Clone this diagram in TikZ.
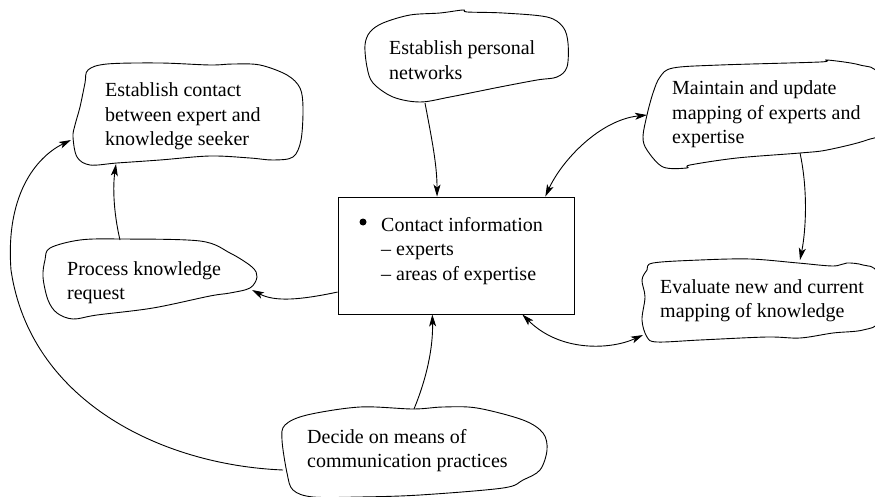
\documentclass[tikz,border=0pt]{standalone}
\usepackage{fontspec}
\setmainfont{Liberation Serif}
\usetikzlibrary{arrows.meta,calc}

\tikzset{
  % multi-line labels are anchored at the baseline of their last line
  label text/.style={anchor=base west, inner sep=0pt, align=left,
    font=\fontsize{20}{24.5}\selectfont},
  blob/.style={draw=black, line width=0.9pt, line join=round},
  link/.style={draw=black, line width=0.9pt,
    -{Stealth[length=12pt,width=7pt,inset=3pt]}},
  twoway/.style={draw=black, line width=0.9pt,
    {Stealth[length=12pt,width=7pt,inset=3pt]}-{Stealth[length=12pt,width=7pt,inset=3pt]}},
}

\begin{document}
\begin{tikzpicture}[x=1pt,y=-1pt]
\useasboundingbox (0,0) rectangle (875,497);

% central store of contact information
\node[draw=black, line width=0.9pt, minimum width=236pt, minimum height=117pt,
      inner sep=0pt] (info) at (456,255.5) {};
\node[circle, fill=black, inner sep=0pt, minimum size=7pt] (bullet) at (363,222) {};
\node[label text] (infotext) at (381,280)
  {Contact information\\– experts\\– areas of expertise};

% hand-drawn activity outlines
\draw[blob] plot[smooth cycle, tension=0.55] coordinates {
  (370,32) (383,23) (410,15) (440,13) (463,10) (467,12) (503,13) (547,17)
  (563,27) (568,43) (567,67) (557,77) (537,80) (500,87) (450,97) (420,102)
  (393,97) (373,83) (367,67) (365,45)};
\node[label text] (personal) at (389,79.5) {Establish personal\\networks};

\draw[blob] plot[smooth cycle, tension=0.55] coordinates {
  (85,83) (88,70) (107,64) (160,63) (210,65) (233,64) (260,65) (287,75)
  (300,88) (303,108) (301,140) (293,157) (273,160) (250,158)
  (210,156) (160,160) (117,163) (90,165) (77,157) (73,137) (75,125) (80,107)};
\node[label text] (contact) at (105,146)
  {Establish contact\\between expert and\\knowledge seeker};

\draw[blob] plot[smooth cycle, tension=0.55] coordinates {
  (50,248) (80,240) (120,239) (200,241) (230,253) (252,267) (257,277)
  (250,288) (230,293) (210,296) (153,308) (97,315) (73,319) (57,313)
  (48,300) (43,277) (45,260)};
\node[label text] (process) at (67,299.5) {Process knowledge\\request};

\draw[blob] plot[smooth cycle, tension=0.55] coordinates {
  (653,93) (660,77) (673,68) (720,65) (820,62) (827,60) (860,65) (878,75)
  (880,130) (867,140) (827,150) (800,153) (737,158) (690,165) (687,168)
  (663,167) (647,150) (643,137) (647,115)};
\node[label text] (maintain) at (672,144)
  {Maintain and update\\mapping of experts and\\expertise};

\draw[blob] plot[smooth cycle, tension=0.55] coordinates {
  (647,270) (653,263) (700,260) (750,259) (798,263) (833,266) (847,263)
  (863,265) (877,273) (879,320) (863,330) (833,333) (800,338) (767,337)
  (700,340) (657,342) (647,337) (642,320) (645,297) (642,280)};
\node[label text] (evaluate) at (660,317.5)
  {Evaluate new and current\\mapping of knowledge};

\draw[blob] plot[smooth cycle, tension=0.55] coordinates {
  (285,425) (307,415) (360,407) (413,409) (443,407) (477,408) (523,420)
  (543,433) (547,450) (540,470) (523,480) (503,488) (420,495) (360,497)
  (313,497) (293,490) (287,473) (282,440)};
\node[label text] (decide) at (307,467.5)
  {Decide on means of\\communication practices};

% attachment points on the outlines
\coordinate (personal-s) at (425,103);
\coordinate (contact-s)  at (116,164);
\coordinate (contact-w)  at (71,140);
\coordinate (process-n)  at (120,240);
\coordinate (process-e)  at (252,290);
\coordinate (maintain-w) at (647,115);
\coordinate (maintain-s) at (800,153);
\coordinate (evaluate-n) at (800,260);
\coordinate (evaluate-w) at (643,335);
\coordinate (decide-n)   at (414,409);
\coordinate (decide-w)   at (283,470);
\coordinate (info-n1) at ($(info.north west)!0.42!(info.north east)$);
\coordinate (info-n2) at ($(info.north west)!0.877!(info.north east)$);
\coordinate (info-s1) at ($(info.south west)!0.40!(info.south east)$);
\coordinate (info-s2) at ($(info.south west)!0.78!(info.south east)$);
\coordinate (info-w)  at ($(info.north west)!0.81!(info.south west)$);

% connectors
\draw[link] (personal-s) .. controls (432,140) and (437,165) .. (info-n1);
\draw[twoway] (maintain-w) .. controls (600,120) and (562,160) .. (info-n2);
\draw[link] (maintain-s) .. controls (808,190) and (806,230) .. (evaluate-n);
\draw[twoway] (info-s2) .. controls (560,352) and (610,350) .. (evaluate-w);
\draw[link] (decide-n) .. controls (430,370) and (433,340) .. (info-s1);
\draw[link] (info-w) .. controls (300,300) and (275,302) .. (process-e);
\draw[link] (process-n) .. controls (113,210) and (113,185) .. (contact-s);
\draw[link] (decide-w) .. controls (160,465) and (30,400) .. (11,270)
  .. controls (5,190) and (40,155) .. (contact-w);
\end{tikzpicture}
\end{document}
